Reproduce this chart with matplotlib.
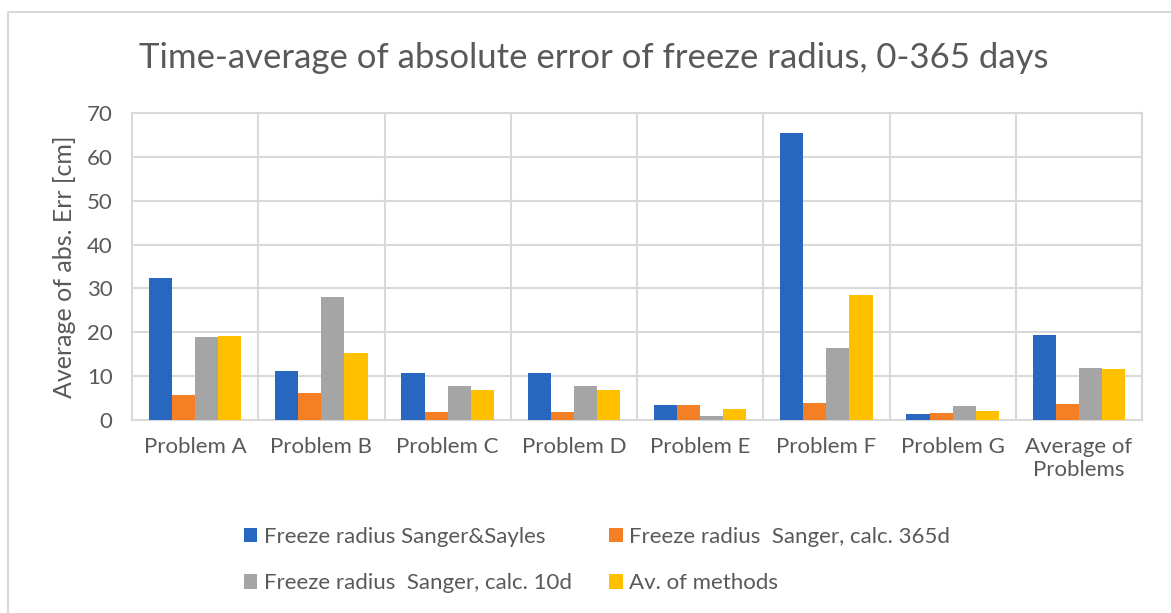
import numpy as np
import matplotlib.pyplot as plt
from matplotlib.lines import Line2D

categories = ["Problem A", "Problem B", "Problem C", "Problem D",
              "Problem E", "Problem F", "Problem G", "Average of\nProblems"]
sanger_sayles = [32.3, 11.2, 10.8, 10.8, 3.5, 65.4, 1.4, 19.4]
sanger_365d = [5.8, 6.2, 1.9, 1.9, 3.5, 3.9, 1.7, 3.6]
sanger_10d = [19.0, 28.1, 7.7, 7.7, 0.8, 16.4, 3.2, 11.9]
av_methods = [19.1, 15.2, 6.8, 6.8, 2.6, 28.5, 2.1, 11.6]

series = [
    ("Freeze radius Sanger&Sayles", sanger_sayles, "#2767C0"),
    ("Freeze radius  Sanger, calc. 365d", sanger_365d, "#F47F24"),
    ("Freeze radius  Sanger, calc. 10d", sanger_10d, "#A5A5A5"),
    ("Av. of methods", av_methods, "#FFC000"),
]

plt.rcParams["font.family"] = ["Lato", "DejaVu Sans"]
text_col = "#595959"
grid_col = "#D9D9D9"

W, H = 1171, 613
fig = plt.figure(figsize=(W / 100, H / 100), dpi=100)

# light outer frame, only top and left edges show in the reference
fig.lines.append(Line2D([8 / W, 8 / W, 1.0], [0, 1 - 12 / H, 1 - 12 / H],
                        transform=fig.transFigure, color=grid_col, linewidth=1.5))

ax = fig.add_axes([132 / W, (H - 420) / H, (1142 - 132) / W, (420 - 113) / H])

x = np.arange(len(categories))
bw = 0.183
bars = []
for i, (name, vals, col) in enumerate(series):
    b = ax.bar(x + (i - 1.5) * bw, vals, width=bw, color=col, label=name, zorder=3)
    bars.append(b)

ax.set_xlim(-0.5, len(categories) - 0.5)
ax.set_ylim(0, 70)
ax.set_yticks(range(0, 71, 10))
ax.set_xticks(x)
ax.set_xticklabels(categories)

ax.set_xticks(np.arange(-0.5, len(categories), 1), minor=True)
ax.grid(axis="y", color=grid_col, linewidth=1.5, zorder=0)
ax.grid(axis="x", which="minor", color=grid_col, linewidth=1.5, zorder=0)
ax.grid(axis="x", which="major", visible=False)

for s in ax.spines.values():
    s.set_color(grid_col)
    s.set_linewidth(1.5)

ax.tick_params(axis="both", which="both", length=0, colors=text_col, labelsize=16)
ax.tick_params(axis="x", pad=12)
ax.tick_params(axis="y", pad=14)

ax.set_ylabel("Average of abs. Err [cm]", color=text_col, fontsize=18, labelpad=8)

fig.text(594 / W, 1 - 58 / H, "Time-average of absolute error of freeze radius, 0-365 days",
         ha="center", va="center", fontsize=25, color=text_col)

# row-major order like the Excel legend
order = [0, 2, 1, 3]
leg = fig.legend([bars[k] for k in order], [series[k][0] for k in order],
                 loc="center", bbox_to_anchor=(597 / W, 1 - 560 / H), ncol=2, frameon=False,
                 fontsize=16, handlelength=0.6, handleheight=0.6, handletextpad=0.3,
                 columnspacing=1.7, labelspacing=1.2)
for t in leg.get_texts():
    t.set_color(text_col)

fig.savefig("out.png", dpi=100)
